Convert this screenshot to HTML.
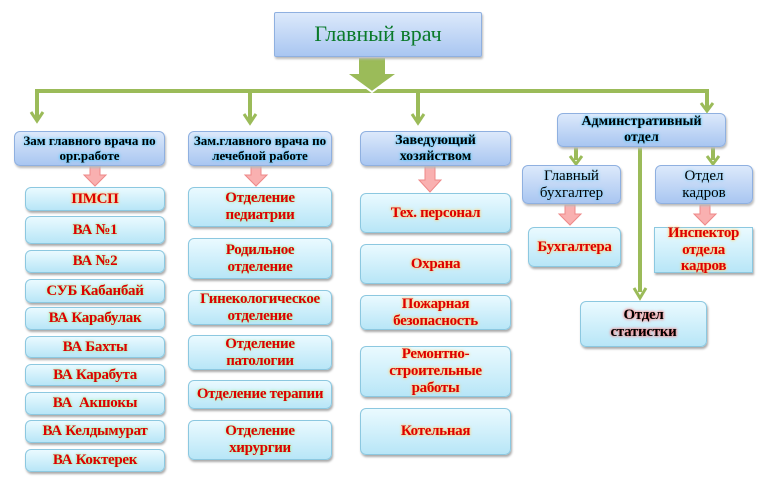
<!DOCTYPE html>
<html><head><meta charset="utf-8"><style>
body{margin:0;width:769px;height:482px;background:#fff;position:relative;overflow:hidden;font-family:"Liberation Serif",serif}
.b{position:absolute;box-sizing:border-box;display:flex;align-items:center;justify-content:center;text-align:center;line-height:1.12;white-space:nowrap}
.h{background:linear-gradient(#dce9fb,#a9c6f1);border:1px solid #8fb0e0;border-radius:6px;box-shadow:1px 2px 2px #bbb;font-weight:bold;font-size:13px;color:#000;text-shadow:0 0 3px #5cf,0 0 2px #5cf}
.h2{background:linear-gradient(#dce9fb,#a9c6f1);border:1px solid #8fb0e0;border-radius:6px;box-shadow:1px 2px 2px #bbb;font-size:15px;color:#000;text-shadow:0 0 3px #5cf}
.l{background:linear-gradient(#eafaff,#b8e6f7);border:1px solid #8cc8e0;border-radius:6px;box-shadow:1px 2px 2px #aaa;font-weight:bold;font-size:15px;color:#d00;text-shadow:0 0 3px #9e9,0 0 2px #cfc;letter-spacing:-0.3px}
.o{text-shadow:0 0 3px #fc6,0 0 2px #fd9}
</style></head><body>
<svg width="769" height="482" style="position:absolute;left:0;top:0">
<g stroke="#9bbb59" stroke-width="4" fill="none">
<polyline points="37,118 37,91 707,91 707,110"/>
<line x1="250" y1="91" x2="250" y2="120"/>
<line x1="418" y1="91" x2="418" y2="120"/>
<line x1="576" y1="147" x2="576" y2="160"/>
<line x1="713" y1="147" x2="713" y2="160"/>
<line x1="640" y1="147" x2="640" y2="292"/>
</g>
<g fill="none" stroke="#9bbb59" stroke-width="3">
<polyline points="31,112 37,121 43,112"/><polyline points="244,114 250,123 256,114"/>
<polyline points="412,114 418,123 424,114"/><polyline points="701,103 707,111 713,103"/>
<polyline points="570,156 576,164 582,156"/><polyline points="707,156 713,164 719,156"/>
<polyline points="634,288 640,298 646,288"/>
</g>
<polygon points="358,57 386,57 386,73 398,73 372,92 346,73 358,73" fill="#9bbb59" stroke="#fff" stroke-width="2"/>
<g fill="#f9b0b0" stroke="#e88" stroke-width="1">
<polygon points="90,166 100,166 100,175 106,175 95,186 84,175 90,175"/>
<polygon points="251,166 261,166 261,175 267,175 256,186 245,175 251,175"/>
<polygon points="425,166 435,166 435,180 441,180 430,192 419,180 425,180"/>
<polygon points="565,205 575,205 575,214 581,214 570,225 559,214 565,214"/>
<polygon points="700,205 710,205 710,214 716,214 705,225 694,214 700,214"/>
</g>
</svg>
<div class="b h2" style="left:274px;top:12px;width:208px;height:45px;border-radius:2px;font-size:22px;color:#0a7a2a;text-shadow:none">Главный врач</div>
<div class="b h" style="left:14px;top:131px;width:151px;height:35px">Зам главного врача по<br>орг.работе</div>
<div class="b h" style="left:188px;top:131px;width:144px;height:35px">Зам.главного врача по<br>лечебной работе</div>
<div class="b h" style="left:360px;top:131px;width:151px;height:35px;font-size:14px">Заведующий<br>хозяйством</div>
<div class="b h" style="left:557px;top:113px;width:169px;height:34px;font-size:14px">Админстративный<br>отдел</div>
<div class="b h2" style="left:522px;top:165px;width:99px;height:39px">Главный<br>бухгалтер</div>
<div class="b h2" style="left:655px;top:165px;width:98px;height:39px">Отдел<br>кадров</div>
<div class="b l o" style="left:25px;top:187px;width:140px;height:24px">ПМСП</div>
<div class="b l" style="left:25px;top:216px;width:140px;height:28px">ВА №1</div>
<div class="b l" style="left:25px;top:250px;width:140px;height:23px">ВА №2</div>
<div class="b l" style="left:25px;top:279px;width:140px;height:24px">СУБ Кабанбай</div>
<div class="b l" style="left:25px;top:307px;width:140px;height:23px">ВА Карабулак</div>
<div class="b l" style="left:25px;top:336px;width:140px;height:22px">ВА Бахты</div>
<div class="b l" style="left:25px;top:364px;width:140px;height:22px">ВА Карабута</div>
<div class="b l" style="left:25px;top:392px;width:140px;height:23px">ВА&nbsp; Акшокы</div>
<div class="b l" style="left:25px;top:420px;width:140px;height:23px">ВА Келдымурат</div>
<div class="b l" style="left:25px;top:449px;width:140px;height:23px">ВА Коктерек</div>
<div class="b l" style="left:188px;top:187px;width:144px;height:40px">Отделение<br>педиатрии</div>
<div class="b l" style="left:188px;top:238px;width:144px;height:41px">Родильное<br>отделение</div>
<div class="b l" style="left:188px;top:290px;width:144px;height:35px">Гинекологическое<br>отделение</div>
<div class="b l" style="left:188px;top:335px;width:144px;height:35px">Отделение<br>патологии</div>
<div class="b l" style="left:188px;top:380px;width:144px;height:29px">Отделение терапии</div>
<div class="b l" style="left:188px;top:420px;width:144px;height:40px">Отделение<br>хирургии</div>
<div class="b l o" style="left:360px;top:193px;width:151px;height:40px">Тех. персонал</div>
<div class="b l o" style="left:360px;top:244px;width:151px;height:40px">Охрана</div>
<div class="b l o" style="left:360px;top:295px;width:151px;height:35px">Пожарная<br>безопасность</div>
<div class="b l o" style="left:360px;top:346px;width:151px;height:51px">Ремонтно-<br>строительные<br>работы</div>
<div class="b l o" style="left:360px;top:408px;width:151px;height:47px">Котельная</div>
<div class="b l o" style="left:528px;top:227px;width:93px;height:40px">Бухгалтера</div>
<div class="b l o" style="left:654px;top:227px;width:99px;height:46px;border-radius:0">Инспектор<br>отдела<br>кадров</div>
<div class="b l o" style="left:580px;top:301px;width:127px;height:46px;color:#000;text-shadow:0 0 3px #f66,0 0 2px #f99">Отдел<br>статистки</div>
</body></html>
